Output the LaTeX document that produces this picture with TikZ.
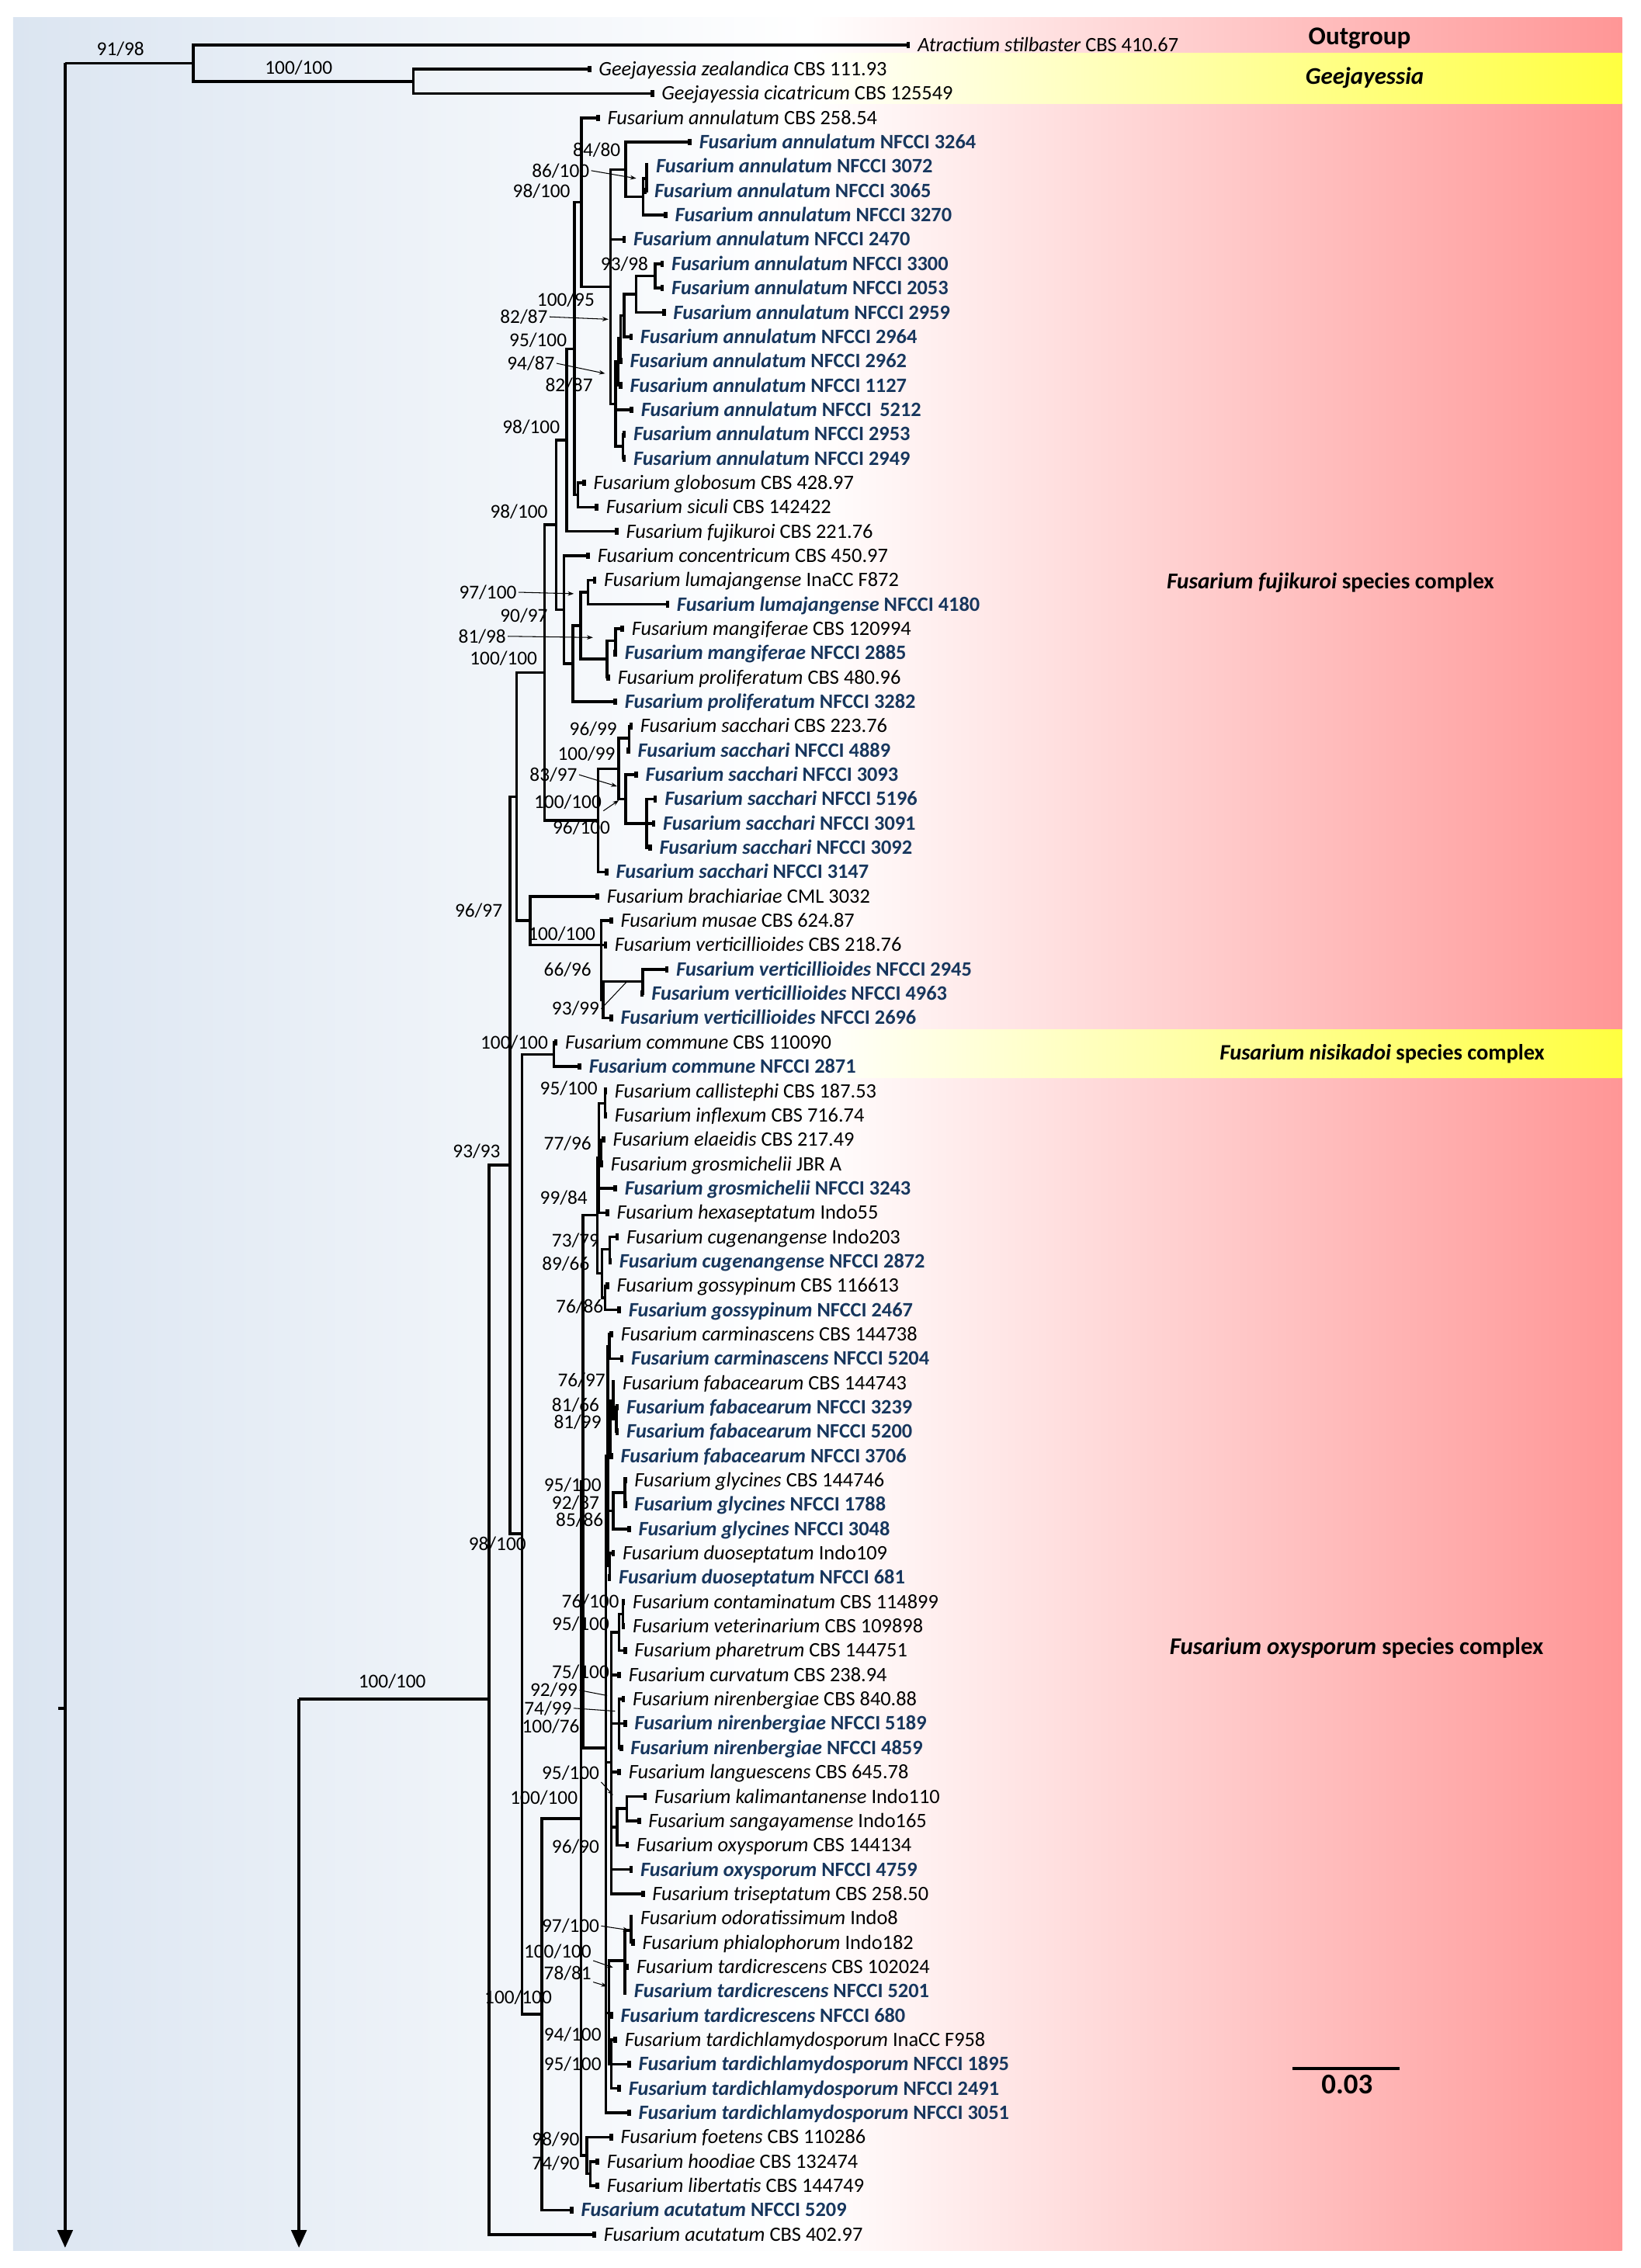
\documentclass[tikz,border=0pt]{standalone}
\usepackage{fontspec}
\setmainfont{Carlito}
\usetikzlibrary{arrows.meta}
\definecolor{isoblue}{RGB}{23,54,93}
\definecolor{bgblue}{RGB}{219,229,241}
\definecolor{bgpink}{RGB}{255,150,150}
\definecolor{bandyellow}{RGB}{255,255,64}
\newcommand{\taxon}[2]{\textit{#1} #2}
\newcommand{\isolate}[2]{\textcolor{isoblue}{\textbf{\textit{#1} #2}}}

\begin{document}
\begin{tikzpicture}[
	x=0.018642cm, y=-0.313558cm,
	br/.style={line width=1pt},
	leaf/.style={line width=1pt, -{Rectangle[length=1.3pt,width=2.4pt]}},
	cut/.style={line width=1.1pt, -{Triangle[length=6.5pt,width=5.5pt]}},
	pointer/.style={line width=0.3pt, -{Stealth[length=2.2pt,width=1.6pt]}},
	lead/.style={line width=0.3pt},
	tip/.style={anchor=west, inner xsep=2.6pt, inner ysep=0pt, text height=5.4pt, text depth=0.6pt, font=\fontsize{7.5}{8}\selectfont},
	sup/.style={anchor=east, inner sep=0.5pt, font=\fontsize{7.2}{7.5}\selectfont},
	clade/.style={anchor=west, inner sep=0pt, font=\fontsize{8.8}{10}\selectfont\bfseries},
]
\useasboundingbox (0,-0.843) rectangle (1134,92.38);

% Background
\shade[left color=bgblue, right color=white] (9,-0.118) rectangle (560,91.67);
\shade[left color=white, right color=bgpink] (560,-0.118) rectangle (1121,91.67);
\shade[left color=white, right color=bandyellow] (560,1.357) rectangle (1121,3.41);
\shade[left color=white, right color=bandyellow] (560,41.47) rectangle (1121,43.44);

% Taxa
\node[tip] (t1) at (629,1) {\taxon{Atractium stilbaster}{CBS 410.67}};
\node[tip] (t2) at (408.6,2) {\taxon{Geejayessia zealandica}{CBS 111.93}};
\node[tip] (t3) at (452,3) {\taxon{Geejayessia cicatricum}{CBS 125549}};
\node[tip] (t4) at (414.6,4) {\taxon{Fusarium annulatum}{CBS 258.54}};
\node[tip] (t5) at (478,5) {\isolate{Fusarium annulatum}{NFCCI 3264}};
\node[tip] (t6) at (448.1,6) {\isolate{Fusarium annulatum}{NFCCI 3072}};
\node[tip] (t7) at (447,7) {\isolate{Fusarium annulatum}{NFCCI 3065}};
\node[tip] (t8) at (461.3,8) {\isolate{Fusarium annulatum}{NFCCI 3270}};
\node[tip] (t9) at (432.5,9) {\isolate{Fusarium annulatum}{NFCCI 2470}};
\node[tip] (t10) at (458.9,10) {\isolate{Fusarium annulatum}{NFCCI 3300}};
\node[tip] (t11) at (458.9,11) {\isolate{Fusarium annulatum}{NFCCI 2053}};
\node[tip] (t12) at (460.1,12) {\isolate{Fusarium annulatum}{NFCCI 2959}};
\node[tip] (t13) at (437.3,13) {\isolate{Fusarium annulatum}{NFCCI 2964}};
\node[tip] (t14) at (430.1,14) {\isolate{Fusarium annulatum}{NFCCI 2962}};
\node[tip] (t15) at (430.1,15) {\isolate{Fusarium annulatum}{NFCCI 1127}};
\node[tip] (t16) at (437.8,16) {\isolate{Fusarium annulatum}{NFCCI\, 5212}};
\node[tip] (t17) at (432.5,17) {\isolate{Fusarium annulatum}{NFCCI 2953}};
\node[tip] (t18) at (432.5,18) {\isolate{Fusarium annulatum}{NFCCI 2949}};
\node[tip] (t19) at (405,19) {\taxon{Fusarium globosum}{CBS 428.97}};
\node[tip] (t20) at (413.6,20) {\taxon{Fusarium siculi}{CBS 142422}};
\node[tip] (t21) at (427.5,21) {\taxon{Fusarium fujikuroi}{CBS 221.76}};
\node[tip] (t22) at (407.7,22) {\taxon{Fusarium concentricum}{CBS 450.97}};
\node[tip] (t23) at (412.2,23) {\taxon{Fusarium lumajangense}{InaCC F872}};
\node[tip] (t24) at (462.5,24) {\isolate{Fusarium lumajangense}{NFCCI 4180}};
\node[tip] (t25) at (431.3,25) {\taxon{Fusarium mangiferae}{CBS 120994}};
\node[tip] (t26) at (426.5,26) {\isolate{Fusarium mangiferae}{NFCCI 2885}};
\node[tip] (t27) at (421.7,27) {\taxon{Fusarium proliferatum}{CBS 480.96}};
\node[tip] (t28) at (426.5,28) {\isolate{Fusarium proliferatum}{NFCCI 3282}};
\node[tip] (t29) at (437.3,29) {\taxon{Fusarium sacchari}{CBS 223.76}};
\node[tip] (t30) at (435.5,30) {\isolate{Fusarium sacchari}{NFCCI 4889}};
\node[tip] (t31) at (440.9,31) {\isolate{Fusarium sacchari}{NFCCI 3093}};
\node[tip] (t32) at (454.1,32) {\isolate{Fusarium sacchari}{NFCCI 5196}};
\node[tip] (t33) at (452.9,33) {\isolate{Fusarium sacchari}{NFCCI 3091}};
\node[tip] (t34) at (450.5,34) {\isolate{Fusarium sacchari}{NFCCI 3092}};
\node[tip] (t35) at (420.5,35) {\isolate{Fusarium sacchari}{NFCCI 3147}};
\node[tip] (t36) at (414.2,36) {\taxon{Fusarium brachiariae}{CML 3032}};
\node[tip] (t37) at (423.7,37) {\taxon{Fusarium musae}{CBS 624.87}};
\node[tip] (t38) at (419.6,38) {\taxon{Fusarium verticillioides}{CBS 218.76}};
\node[tip] (t39) at (462.1,39) {\isolate{Fusarium verticillioides}{NFCCI 2945}};
\node[tip] (t40) at (445,40) {\isolate{Fusarium verticillioides}{NFCCI 4963}};
\node[tip] (t41) at (423.7,41) {\isolate{Fusarium verticillioides}{NFCCI 2696}};
\node[tip] (t42) at (385.4,42) {\taxon{Fusarium commune}{CBS 110090}};
\node[tip] (t43) at (401.8,43) {\isolate{Fusarium commune}{NFCCI 2871}};
\node[tip] (t44) at (419.6,44) {\taxon{Fusarium callistephi}{CBS 187.53}};
\node[tip] (t45) at (419.6,45) {\taxon{Fusarium inflexum}{CBS 716.74}};
\node[tip] (t46) at (418.3,46) {\taxon{Fusarium elaeidis}{CBS 217.49}};
\node[tip] (t47) at (416.9,47) {\taxon{Fusarium grosmichelii}{JBR A}};
\node[tip] (t48) at (426.5,48) {\isolate{Fusarium grosmichelii}{NFCCI 3243}};
\node[tip] (t49) at (421,49) {\taxon{Fusarium hexaseptatum}{Indo55}};
\node[tip] (t50) at (427.8,50) {\taxon{Fusarium cugenangense}{Indo203}};
\node[tip] (t51) at (422.8,51) {\isolate{Fusarium cugenangense}{NFCCI 2872}};
\node[tip] (t52) at (421,52) {\taxon{Fusarium gossypinum}{CBS 116613}};
\node[tip] (t53) at (429.2,53) {\isolate{Fusarium gossypinum}{NFCCI 2467}};
\node[tip] (t54) at (423.8,54) {\taxon{Fusarium carminascens}{CBS 144738}};
\node[tip] (t55) at (431,55) {\isolate{Fusarium carminascens}{NFCCI 5204}};
\node[tip] (t56) at (425.1,56) {\taxon{Fusarium fabacearum}{CBS 144743}};
\node[tip] (t57) at (427.8,57) {\isolate{Fusarium fabacearum}{NFCCI 3239}};
\node[tip] (t58) at (427.8,58) {\isolate{Fusarium fabacearum}{NFCCI 5200}};
\node[tip] (t59) at (423.7,59) {\isolate{Fusarium fabacearum}{NFCCI 3706}};
\node[tip] (t60) at (433.3,60) {\taxon{Fusarium glycines}{CBS 144746}};
\node[tip] (t61) at (433.3,61) {\isolate{Fusarium glycines}{NFCCI 1788}};
\node[tip] (t62) at (436.1,62) {\isolate{Fusarium glycines}{NFCCI 3048}};
\node[tip] (t63) at (425.1,63) {\taxon{Fusarium duoseptatum}{Indo109}};
\node[tip] (t64) at (422.4,64) {\isolate{Fusarium duoseptatum}{NFCCI 681}};
\node[tip] (t65) at (432,65) {\taxon{Fusarium contaminatum}{CBS 114899}};
\node[tip] (t66) at (432,66) {\taxon{Fusarium veterinarium}{CBS 109898}};
\node[tip] (t67) at (433.3,67) {\taxon{Fusarium pharetrum}{CBS 144751}};
\node[tip] (t68) at (429.2,68) {\taxon{Fusarium curvatum}{CBS 238.94}};
\node[tip] (t69) at (432,69) {\taxon{Fusarium nirenbergiae}{CBS 840.88}};
\node[tip] (t70) at (433.3,70) {\isolate{Fusarium nirenbergiae}{NFCCI 5189}};
\node[tip] (t71) at (430.6,71) {\isolate{Fusarium nirenbergiae}{NFCCI 4859}};
\node[tip] (t72) at (429.2,72) {\taxon{Fusarium languescens}{CBS 645.78}};
\node[tip] (t73) at (447,73) {\taxon{Fusarium kalimantanense}{Indo110}};
\node[tip] (t74) at (442.9,74) {\taxon{Fusarium sangayamense}{Indo165}};
\node[tip] (t75) at (434.7,75) {\taxon{Fusarium oxysporum}{CBS 144134}};
\node[tip] (t76) at (437.4,76) {\isolate{Fusarium oxysporum}{NFCCI 4759}};
\node[tip] (t77) at (445.6,77) {\taxon{Fusarium triseptatum}{CBS 258.50}};
\node[tip] (t78) at (437.4,78) {\taxon{Fusarium odoratissimum}{Indo8}};
\node[tip] (t79) at (438.8,79) {\taxon{Fusarium phialophorum}{Indo182}};
\node[tip] (t80) at (434.7,80) {\taxon{Fusarium tardicrescens}{CBS 102024}};
\node[tip] (t81) at (433,81) {\isolate{Fusarium tardicrescens}{NFCCI 5201}};
\node[tip] (t82) at (423.7,82) {\isolate{Fusarium tardicrescens}{NFCCI 680}};
\node[tip] (t83) at (426.5,83) {\taxon{Fusarium tardichlamydosporum}{InaCC F958}};
\node[tip] (t84) at (436.1,84) {\isolate{Fusarium tardichlamydosporum}{NFCCI 1895}};
\node[tip] (t85) at (429.2,85) {\isolate{Fusarium tardichlamydosporum}{NFCCI 2491}};
\node[tip] (t86) at (436.1,86) {\isolate{Fusarium tardichlamydosporum}{NFCCI 3051}};
\node[tip] (t87) at (423.7,87) {\taxon{Fusarium foetens}{CBS 110286}};
\node[tip] (t88) at (414.2,88) {\taxon{Fusarium hoodiae}{CBS 132474}};
\node[tip] (t89) at (414.2,89) {\taxon{Fusarium libertatis}{CBS 144749}};
\node[tip] (t90) at (396.4,90) {\isolate{Fusarium acutatum}{NFCCI 5209}};
\node[tip] (t91) at (412,91) {\taxon{Fusarium acutatum}{CBS 402.97}};

% Internal nodes
\coordinate (root) at (45,1.75);
\coordinate (rootend) at (45,91.55);
\coordinate (stub) at (40,69.37);
\coordinate (stubjoin) at (45,69.37);
\coordinate (og) at (133.7,1.75);
\coordinate (gee) at (285.6,2.5);
\coordinate (trunk) at (206.6,69);
\coordinate (trunkend) at (206.6,91.55);
\coordinate (n100) at (338,69);
\coordinate (n93) at (352.6,47.05);
\coordinate (ffsc) at (357,31.9);
\coordinate (up) at (376.4,26.8);
\coordinate (n98c) at (384.4,20.73);
\coordinate (n98b) at (391.6,17.24);
\coordinate (n95) at (396.9,13.49);
\coordinate (ann) at (401.9,7.47);
\coordinate (a1) at (422,10.95);
\coordinate (a2) at (432.5,6.125);
\coordinate (a3) at (444.5,7.25);
\coordinate (a0) at (446.9,6.5);
\coordinate (b6) at (425.5,15.77);
\coordinate (b5) at (427.2,14.03);
\coordinate (b4) at (428.8,13.06);
\coordinate (b3) at (431.3,12.125);
\coordinate (b2) at (439.7,11.25);
\coordinate (b1) at (452.9,10.5);
\coordinate (b7) at (430.5,17.5);
\coordinate (glo) at (399.3,19.5);
\coordinate (n90) at (389.8,24.22);
\coordinate (lp) at (396,26.44);
\coordinate (lm) at (401.4,24.875);
\coordinate (lum) at (406.5,23.5);
\coordinate (mp) at (419.4,26.25);
\coordinate (mg) at (425.3,25.5);
\coordinate (sac) at (413.4,32.875);
\coordinate (s12) at (427.7,30.75);
\coordinate (s1) at (434.9,29.5);
\coordinate (s2) at (432.5,32);
\coordinate (s3) at (446.9,33);
\coordinate (bra) at (366.3,37);
\coordinate (ver) at (415.5,38);
\coordinate (v1) at (416.9,40.25);
\coordinate (w2) at (444.3,39.5);
\coordinate (n98) at (360.8,62.2);
\coordinate (com) at (382.7,42.5);
\coordinate (pa) at (374.6,81.95);
\coordinate (qa) at (401.5,73.9);
\coordinate (ya) at (403,60.05);
\coordinate (r99) at (412.8,49.1);
\coordinate (g1) at (414,46.75);
\coordinate (c1) at (418.3,44.5);
\coordinate (c2) at (415.5,46.5);
\coordinate (g2) at (416,51.5);
\coordinate (cg) at (421.5,50.5);
\coordinate (gs2) at (418.3,52.5);
\coordinate (x2) at (418.8,71);
\coordinate (xa) at (420.2,59);
\coordinate (cm) at (421.2,54.5);
\coordinate (fb3) at (421.8,57.9);
\coordinate (fb2) at (423.7,56.75);
\coordinate (fb1) at (425.9,57.5);
\coordinate (gl2) at (423.7,61.25);
\coordinate (gl1) at (432,60.5);
\coordinate (du) at (421.4,63.5);
\coordinate (xb) at (422.5,71.6);
\coordinate (ct2) at (427.8,66.25);
\coordinate (ct1) at (430.6,65.5);
\coordinate (nr) at (427.8,70);
\coordinate (k2) at (426.5,74.25);
\coordinate (ks) at (433.3,73.5);
\coordinate (xc) at (421,81.9);
\coordinate (td) at (431.9,79.75);
\coordinate (op) at (436.1,78.5);
\coordinate (td2) at (422.4,84);
\coordinate (f9) at (405.5,87.75);
\coordinate (hl) at (408,88.5);

% Branches
\draw[cut] (root) -- (rootend);
\draw[br] (stub) -- (stubjoin);
\draw[br] (root) -- (og);
\draw[leaf] (og) |- (t1.west);
\draw[br] (og) |- (gee);
\draw[leaf] (gee) |- (t2.west);
\draw[leaf] (gee) |- (t3.west);
\draw[cut] (trunk) -- (trunkend);
\draw[br] (trunk) -- (n100);
\draw[br] (n100) |- (n93);
\draw[leaf] (n100) |- (t91.west);
\draw[br] (n93) |- (ffsc);
\draw[br] (n93) |- (n98);
% fujikuroi complex
\draw[br] (ffsc) |- (up);
\draw[br] (ffsc) |- (bra);
\draw[br] (up) |- (n98c);
\draw[br] (up) |- (sac);
\draw[br] (n98c) |- (n98b);
\draw[br] (n98c) |- (n90);
\draw[br] (n98b) |- (n95);
\draw[leaf] (n98b) |- (t21.west);
\draw[br] (n95) |- (ann);
\draw[br] (n95) |- (glo);
\draw[leaf] (ann) |- (t4.west);
\draw[br] (ann) |- (a1);
\draw[br] (a1) |- (a2);
\draw[leaf] (a1) |- (t9.west);
\draw[br] (a1) |- (b6);
\draw[leaf] (a2) |- (t5.west);
\draw[br] (a2) |- (a3);
\draw[br] (a3) |- (a0);
\draw[leaf] (a3) |- (t8.west);
\draw[leaf] (a0) |- (t6.west);
\draw[leaf] (a0) |- (t7.west);
\draw[br] (b6) |- (b5);
\draw[leaf] (b6) |- (t16.west);
\draw[br] (b6) |- (b7);
\draw[br] (b5) |- (b4);
\draw[leaf] (b5) |- (t15.west);
\draw[br] (b4) |- (b3);
\draw[leaf] (b4) |- (t14.west);
\draw[br] (b3) |- (b2);
\draw[leaf] (b3) |- (t13.west);
\draw[br] (b2) |- (b1);
\draw[leaf] (b2) |- (t12.west);
\draw[leaf] (b1) |- (t10.west);
\draw[leaf] (b1) |- (t11.west);
\draw[leaf] (b7) |- (t17.west);
\draw[leaf] (b7) |- (t18.west);
\draw[leaf] (glo) |- (t19.west);
\draw[leaf] (glo) |- (t20.west);
\draw[leaf] (n90) |- (t22.west);
\draw[br] (n90) |- (lp);
\draw[br] (lp) |- (lm);
\draw[leaf] (lp) |- (t28.west);
\draw[br] (lm) |- (lum);
\draw[br] (lm) |- (mp);
\draw[leaf] (lum) |- (t23.west);
\draw[leaf] (lum) |- (t24.west);
\draw[br] (mp) |- (mg);
\draw[leaf] (mp) |- (t27.west);
\draw[leaf] (mg) |- (t25.west);
\draw[leaf] (mg) |- (t26.west);
\draw[br] (sac) |- (s12);
\draw[leaf] (sac) |- (t35.west);
\draw[br] (s12) |- (s1);
\draw[br] (s12) |- (s2);
\draw[leaf] (s1) |- (t29.west);
\draw[leaf] (s1) |- (t30.west);
\draw[leaf] (s2) |- (t31.west);
\draw[br] (s2) |- (s3);
\draw[leaf] (s3) |- (t32.west);
\draw[leaf] (s3) |- (t33.west);
\draw[leaf] (s3) |- (t34.west);
\draw[leaf] (bra) |- (t36.west);
\draw[br] (bra) |- (ver);
\draw[leaf] (ver) |- (t37.west);
\draw[leaf] (ver) |- (t38.west);
\draw[br] (ver) |- (v1);
\draw[br] (v1) |- (w2);
\draw[leaf] (v1) |- (t41.west);
\draw[leaf] (w2) |- (t39.west);
\draw[leaf] (w2) |- (t40.west);
% nisikadoi complex
\draw[br] (n98) |- (com);
\draw[br] (n98) |- (pa);
\draw[leaf] (com) |- (t42.west);
\draw[leaf] (com) |- (t43.west);
% oxysporum complex
\draw[br] (pa) |- (qa);
\draw[leaf] (pa) |- (t90.west);
\draw[br] (qa) |- (ya);
\draw[br] (qa) |- (f9);
\draw[br] (ya) |- (r99);
\draw[br] (ya) |- (x2);
\draw[br] (r99) |- (g1);
\draw[br] (r99) |- (g2);
\draw[br] (g1) |- (c1);
\draw[br] (g1) |- (c2);
\draw[leaf] (g1) |- (t48.west);
\draw[leaf] (g1) |- (t49.west);
\draw[leaf] (c1) |- (t44.west);
\draw[leaf] (c1) |- (t45.west);
\draw[leaf] (c2) |- (t46.west);
\draw[leaf] (c2) |- (t47.west);
\draw[br] (g2) |- (cg);
\draw[br] (g2) |- (gs2);
\draw[leaf] (cg) |- (t50.west);
\draw[leaf] (cg) |- (t51.west);
\draw[leaf] (gs2) |- (t52.west);
\draw[leaf] (gs2) |- (t53.west);
\draw[br] (x2) |- (xa);
\draw[br] (x2) |- (xb);
\draw[br] (x2) |- (xc);
\draw[leaf] (x2) |- (t86.west);
\draw[br] (xa) |- (cm);
\draw[br] (xa) |- (fb3);
\draw[br] (xa) |- (gl2);
\draw[br] (xa) |- (du);
\draw[leaf] (cm) |- (t54.west);
\draw[leaf] (cm) |- (t55.west);
\draw[br] (fb3) |- (fb2);
\draw[leaf] (fb3) |- (t59.west);
\draw[leaf] (fb2) |- (t56.west);
\draw[br] (fb2) |- (fb1);
\draw[leaf] (fb1) |- (t57.west);
\draw[leaf] (fb1) |- (t58.west);
\draw[br] (gl2) |- (gl1);
\draw[leaf] (gl2) |- (t62.west);
\draw[leaf] (gl1) |- (t60.west);
\draw[leaf] (gl1) |- (t61.west);
\draw[leaf] (du) |- (t63.west);
\draw[leaf] (du) |- (t64.west);
\draw[br] (xb) |- (ct2);
\draw[leaf] (xb) |- (t68.west);
\draw[br] (xb) |- (nr);
\draw[leaf] (xb) |- (t72.west);
\draw[br] (xb) |- (k2);
\draw[leaf] (xb) |- (t76.west);
\draw[leaf] (xb) |- (t77.west);
\draw[br] (ct2) |- (ct1);
\draw[leaf] (ct2) |- (t67.west);
\draw[leaf] (ct1) |- (t65.west);
\draw[leaf] (ct1) |- (t66.west);
\draw[leaf] (nr) |- (t69.west);
\draw[leaf] (nr) |- (t70.west);
\draw[leaf] (nr) |- (t71.west);
\draw[br] (k2) |- (ks);
\draw[leaf] (k2) |- (t75.west);
\draw[leaf] (ks) |- (t73.west);
\draw[leaf] (ks) |- (t74.west);
\draw[br] (xc) |- (td);
\draw[leaf] (xc) |- (t82.west);
\draw[br] (xc) |- (td2);
\draw[br] (td) |- (op);
\draw[leaf] (td) |- (t80.west);
\draw[leaf] (td) |- (t81.west);
\draw[leaf] (op) |- (t78.west);
\draw[leaf] (op) |- (t79.west);
\draw[leaf] (td2) |- (t83.west);
\draw[leaf] (td2) |- (t84.west);
\draw[leaf] (td2) |- (t85.west);
\draw[leaf] (f9) |- (t87.west);
\draw[br] (f9) |- (hl);
\draw[leaf] (hl) |- (t88.west);
\draw[leaf] (hl) |- (t89.west);

% Support values
\node[sup] (v1l) at (101,1.18) {91/98};
\node[sup] (v2l) at (231,1.95) {100/100};
\node[sup] (v3l) at (430.1,5.32) {84/80};
\node[sup] (v4l) at (408.6,6.17) {86/100};
\node[sup] (v5l) at (395.4,7.02) {98/100};
\node[sup] (v6l) at (449.3,10.0) {93/98};
\node[sup] (v7l) at (412.2,11.49) {100/95};
\node[sup] (v8l) at (379.8,12.18) {82/87};
\node[sup] (v9l) at (393,13.13) {95/100};
\node[sup] (v10l) at (384.6,14.09) {94/87};
\node[sup] (v11l) at (411,14.99) {82/87};
\node[sup] (v12l) at (388.2,16.7) {98/100};
\node[sup] (v13l) at (379.8,20.2) {98/100};
\node[sup] (v14l) at (358.3,23.5) {97/100};
\node[sup] (v15l) at (379.8,24.46) {90/97};
\node[sup] (v16l) at (351,25.31) {81/98};
\node[sup] (v17l) at (372.6,26.21) {100/100};
\node[sup] (v18l) at (427.7,29.13) {96/99};
\node[sup] (v19l) at (426.5,30.14) {100/99};
\node[sup] (v20l) at (400.2,31.0) {83/97};
\node[sup] (v21l) at (417,32.11) {100/100};
\node[sup] (v22l) at (423,33.18) {96/100};
\node[sup] (v23l) at (348.5,36.58) {96/97};
\node[sup] (v24l) at (412.8,37.53) {100/100};
\node[sup] (v25l) at (410,39.02) {66/96};
\node[sup] (v26l) at (415.5,40.62) {93/99};
\node[sup] (v27l) at (380,42.0) {100/100};
\node[sup] (v28l) at (414.2,43.9) {95/100};
\node[sup] (v29l) at (410,46.15) {77/96};
\node[sup] (v30l) at (347.1,46.47) {93/93};
\node[sup] (v31l) at (407.3,48.39) {99/84};
\node[sup] (v32l) at (415.5,50.14) {73/79};
\node[sup] (v33l) at (408.7,51.1) {89/66};
\node[sup] (v34l) at (418.3,52.85) {76/86};
\node[sup] (v35l) at (419.6,55.88) {76/97};
\node[sup] (v36l) at (415.5,56.9) {81/66};
\node[sup] (v37l) at (416.9,57.6) {81/99};
\node[sup] (v38l) at (416.9,60.19) {95/100};
\node[sup] (v39l) at (415.5,60.93) {92/87};
\node[sup] (v40l) at (418.3,61.62) {85/86};
\node[sup] (v41l) at (364.9,62.63) {98/100};
\node[sup] (v42l) at (429.2,64.97) {76/100};
\node[sup] (v43l) at (422.4,65.92) {95/100};
\node[sup] (v44l) at (422.4,67.88) {75/100};
\node[sup] (v45l) at (400.5,68.63) {92/99};
\node[sup] (v46l) at (396.4,69.37) {74/99};
\node[sup] (v47l) at (401.8,70.13) {100/76};
\node[sup] (v48l) at (415.5,72.03) {95/100};
\node[sup] (v49l) at (400.5,73.05) {100/100};
\node[sup] (v50l) at (415.5,75.07) {96/90};
\node[sup] (v51l) at (415.5,78.32) {97/100};
\node[sup] (v52l) at (410,79.37) {100/100};
\node[sup] (v53l) at (410,80.25) {78/81};
\node[sup] (v54l) at (382.7,81.24) {100/100};
\node[sup] (v55l) at (416.9,82.79) {94/100};
\node[sup] (v56l) at (416.9,84.0) {95/100};
\node[sup] (v57l) at (401.8,87.09) {98/90};
\node[sup] (v58l) at (401.8,88.07) {74/90};
\node[sup] (v59l) at (295.6,68.28) {100/100};

% Pointers to short branches
\coordinate (p4) at (439.7,6.49);
\coordinate (p8) at (420.5,12.28);
\coordinate (p10) at (418.2,14.51);
\coordinate (p14) at (396.6,23.56);
\coordinate (p16) at (409.8,25.36);
\coordinate (p20) at (426.5,31.48);
\coordinate (p21) at (427.7,32.05);
\coordinate (p26) at (433.3,39.5);
\coordinate (p45) at (419.6,68.85);
\coordinate (p46) at (425.1,69.49);
\coordinate (p48) at (423.7,72.94);
\coordinate (p51) at (434.7,78.49);
\coordinate (p52) at (423.7,80.03);
\coordinate (p53) at (419.6,80.8);
\draw[pointer] (v4l.east) -- (p4);
\draw[pointer] (v8l.east) -- (p8);
\draw[pointer] (v10l.east) -- (p10);
\draw[pointer] (v14l.east) -- (p14);
\draw[pointer] (v16l.east) -- (p16);
\draw[pointer] (v20l.east) -- (p20);
\draw[pointer] (v21l.south east) -- (p21);
\draw[lead] (v26l.east) -- (p26);
\draw[lead] (v45l.east) -- (p45);
\draw[lead] (v46l.east) -- (p46);
\draw[pointer] (v48l.south east) -- (p48);
\draw[pointer] (v51l.east) -- (p51);
\draw[pointer] (v52l.south east) -- (p52);
\draw[pointer] (v53l.south east) -- (p53);

% Clade names
\node[clade, font=\fontsize{9.4}{10}\selectfont\bfseries] (lout) at (904,0.75) {Outgroup};
\node[clade] (lgee) at (902,2.34) {\textit{Geejayessia}};
\node[clade, font=\fontsize{8.3}{10}\selectfont\bfseries] (lffsc) at (806,23.1) {\textit{Fusarium fujikuroi} species complex};
\node[clade, font=\fontsize{8.1}{10}\selectfont\bfseries] (lfnsc) at (842.7,42.48) {\textit{Fusarium nisikadoi} species complex};
\node[clade] (lfosc) at (808,66.9) {\textit{Fusarium oxysporum} species complex};

% Scale bar
\coordinate (sb1) at (893.2,84.18);
\coordinate (sb2) at (967.4,84.18);
\draw[line width=1.2pt] (sb1) -- (sb2);
\node[font=\fontsize{10.5}{11}\selectfont\bfseries, inner sep=0pt] (sblab) at (931,84.85) {0.03};
\end{tikzpicture}
\end{document}
